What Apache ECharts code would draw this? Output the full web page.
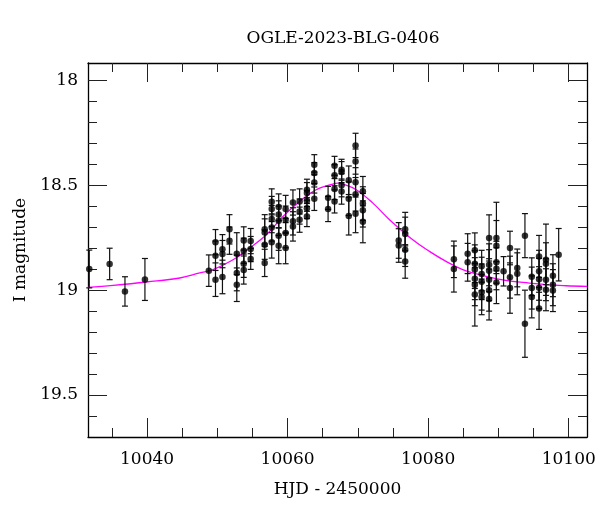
<!DOCTYPE html>
<html>
<head>
<meta charset="utf-8">
<script src="https://cdn.jsdelivr.net/npm/echarts@6/dist/echarts.min.js"></script>
<style>
html,body{margin:0;padding:0;background:#fff;}
#chart{width:600px;height:512px;}
</style>
</head>
<body>
<div id="chart"></div>
<script>
// ---- data ----
var titleText = 'OGLE-2023-BLG-0406';
var xName = 'HJD - 2450000';
var yName = 'I magnitude';

var xMajorTicks = [10040, 10060, 10080, 10100];
var xMinorTicks = [10035, 10040, 10045, 10050, 10055, 10060, 10065, 10070, 10075, 10080, 10085, 10090, 10095, 10100];
var yMajorTicks = [18, 18.5, 19, 19.5];
var yMinorTicks = [18.0, 18.1, 18.2, 18.3, 18.4, 18.5, 18.6, 18.7, 18.8, 18.9, 19.0, 19.1, 19.2, 19.3, 19.4, 19.5, 19.6];

var hjd = [
 10031.78, 10034.68, 10036.86, 10039.70, 10048.79,
 10049.74, 10049.74, 10049.74, 10050.73, 10050.73, 10050.73,
 10051.73, 10051.73, 10052.77, 10052.77, 10052.77,
 10053.76, 10053.76, 10053.76, 10053.76, 10054.75, 10054.75, 10054.75,
 10056.74, 10056.74, 10056.74, 10056.74,
 10057.74, 10057.74, 10057.74, 10057.74, 10057.74,
 10058.73, 10058.73, 10058.73, 10058.73, 10058.73,
 10059.72, 10059.72, 10059.72, 10059.72,
 10060.76, 10060.76, 10060.76, 10061.71, 10061.71, 10061.71,
 10062.75, 10062.75, 10062.75, 10062.75, 10062.75,
 10063.80, 10063.80, 10063.80, 10063.80,
 10065.76, 10065.76, 10066.68, 10066.68, 10066.68, 10066.68,
 10067.68, 10067.68, 10067.68, 10067.68,
 10068.70, 10068.70, 10068.70,
 10069.67, 10069.67, 10069.67, 10069.67, 10069.67,
 10070.71, 10070.71, 10070.71, 10070.71,
 10075.81, 10075.81, 10076.73, 10076.73, 10076.73, 10076.73,
 10083.66, 10083.66, 10085.62, 10085.62,
 10086.64, 10086.64, 10086.64, 10086.64, 10086.64, 10086.64,
 10087.61, 10087.61, 10087.61, 10087.61, 10087.61,
 10088.67, 10088.67, 10088.67, 10088.67, 10088.67, 10088.67,
 10089.71, 10089.71, 10089.71, 10089.71, 10089.71,
 10090.73, 10091.64, 10091.64, 10091.64, 10092.68, 10092.68,
 10093.77, 10093.77, 10094.74, 10094.74, 10094.74,
 10095.78, 10095.78, 10095.78, 10095.78, 10095.78,
 10096.76, 10096.76, 10096.76, 10096.76,
 10097.75, 10097.75, 10097.75, 10098.57
];
var mag = [
 18.899, 18.875, 19.006, 18.949, 18.907,
 18.771, 18.836, 18.950, 18.805, 18.828, 18.937,
 18.710, 18.764, 18.826, 18.918, 18.974,
 18.763, 18.812, 18.874, 18.904, 18.766, 18.804, 18.851,
 18.710, 18.725, 18.783, 18.870,
 18.579, 18.613, 18.661, 18.701, 18.772,
 18.604, 18.639, 18.669, 18.740, 18.788,
 18.613, 18.664, 18.728, 18.799,
 18.582, 18.672, 18.696, 18.577, 18.625, 18.664,
 18.521, 18.537, 18.574, 18.609, 18.649,
 18.402, 18.442, 18.487, 18.564,
 18.560, 18.613, 18.407, 18.452, 18.518, 18.577,
 18.426, 18.437, 18.500, 18.530,
 18.476, 18.564, 18.647,
 18.310, 18.387, 18.486, 18.543, 18.636,
 18.528, 18.587, 18.619, 18.674,
 18.763, 18.787, 18.709, 18.732, 18.807, 18.863,
 18.853, 18.899, 18.826, 18.867,
 18.810, 18.874, 18.902, 18.945, 18.974, 19.021,
 18.886, 18.923, 18.960, 19.010, 19.032,
 18.751, 18.879, 18.907, 18.950, 19.000, 19.042,
 18.751, 18.788, 18.867, 18.898, 18.964,
 18.910, 18.799, 18.938, 18.990, 18.894, 18.922,
 18.740, 19.160, 18.936, 18.990, 19.032,
 18.839, 18.910, 18.948, 18.988, 19.087,
 18.855, 18.874, 18.950, 18.998,
 18.931, 18.974, 19.002, 18.831
];
var magErr = [
 0.090, 0.075, 0.070, 0.100, 0.075,
 0.060, 0.070, 0.080, 0.070, 0.065, 0.080,
 0.070, 0.065, 0.100, 0.085, 0.080,
 0.065, 0.060, 0.065, 0.067, 0.060, 0.060, 0.050,
 0.070, 0.065, 0.070, 0.065,
 0.062, 0.060, 0.065, 0.065, 0.075,
 0.063, 0.065, 0.070, 0.070, 0.086,
 0.065, 0.065, 0.070, 0.075,
 0.060, 0.065, 0.070, 0.060, 0.060, 0.060,
 0.050, 0.050, 0.050, 0.050, 0.048,
 0.048, 0.050, 0.050, 0.056,
 0.055, 0.060, 0.045, 0.050, 0.050, 0.055,
 0.050, 0.050, 0.055, 0.060,
 0.068, 0.080, 0.090,
 0.058, 0.060, 0.070, 0.080, 0.090,
 0.070, 0.080, 0.080, 0.100,
 0.085, 0.080, 0.080, 0.080, 0.080, 0.080,
 0.087, 0.110, 0.095, 0.090,
 0.083, 0.090, 0.090, 0.100, 0.100, 0.150,
 0.076, 0.080, 0.085, 0.085, 0.085,
 0.110, 0.100, 0.100, 0.100, 0.100, 0.100,
 0.170, 0.120, 0.100, 0.100, 0.100,
 0.070, 0.080, 0.100, 0.120, 0.090, 0.100,
 0.105, 0.160, 0.090, 0.100, 0.100,
 0.100, 0.100, 0.100, 0.100, 0.100,
 0.170, 0.100, 0.100, 0.100,
 0.100, 0.100, 0.100, 0.125
];

// model curve
var modelHjd = [10031.6, 10035.19, 10039.94, 10044.67, 10047.51, 10049.40, 10052.24, 10054.61, 10056.98, 10059.34, 10061.71, 10064.09, 10066.44, 10067.15, 10067.86, 10069.77, 10072.13, 10074.50, 10077.81, 10080.18, 10082.55, 10084.91, 10087.28, 10089.65, 10092.01, 10094.38, 10096.75, 10099.59, 10102.6];
var modelMag = [18.987, 18.977, 18.961, 18.942, 18.918, 18.902, 18.855, 18.799, 18.736, 18.649, 18.577, 18.521, 18.494, 18.490, 18.494, 18.521, 18.585, 18.664, 18.760, 18.815, 18.863, 18.902, 18.926, 18.945, 18.958, 18.966, 18.974, 18.979, 18.982];

var xMin = 10031.6, xMax = 10102.6;
var yMin = 17.917, yMax = 19.7;

// ---- chart ----
var FONT = 'DejaVu Serif';
var points = hjd.map(function (x, i) { return [x, mag[i], magErr[i]]; });
var model = modelHjd.map(function (x, i) { return [x, modelMag[i]]; });
function plainNum(v) { return String(v); }

function xAxisCfg(pos, ticks, len, withLabels, showLine) {
  return {
    type: 'value', position: pos, min: xMin, max: xMax,
    axisLine: { show: showLine, onZero: false, lineStyle: { color: '#000', width: 1.3 } },
    axisTick: { show: true, inside: true, length: len, customValues: ticks, lineStyle: { color: '#222', width: 1 } },
    axisLabel: withLabels ? { show: true, customValues: ticks, formatter: plainNum, fontFamily: FONT, fontSize: 17, color: '#000', margin: 14 } : { show: false },
    splitLine: { show: false },
    name: withLabels ? xName : '',
    nameLocation: 'middle', nameGap: 44,
    nameTextStyle: { fontFamily: FONT, fontSize: 17, color: '#000' }
  };
}
function yAxisCfg(pos, ticks, len, withLabels, showLine) {
  return {
    type: 'value', position: pos, min: yMin, max: yMax, inverse: true,
    axisLine: { show: showLine, onZero: false, lineStyle: { color: '#000', width: 1.3 } },
    axisTick: { show: true, inside: true, length: len, customValues: ticks, lineStyle: { color: '#222', width: 1 } },
    axisLabel: withLabels ? { show: true, customValues: ticks, formatter: plainNum, fontFamily: FONT, fontSize: 17, color: '#000', margin: 10 } : { show: false },
    splitLine: { show: false },
    name: withLabels ? yName : '',
    nameLocation: 'middle', nameGap: 58, nameRotate: 90,
    nameTextStyle: { fontFamily: FONT, fontSize: 17, color: '#000' }
  };
}

var chart = echarts.init(document.getElementById('chart'), null, { renderer: 'canvas' });
chart.setOption({
  backgroundColor: '#fff',
  animation: false,
  title: {
    text: titleText, left: 338, top: 25, textAlign: 'center',
    textStyle: { fontFamily: FONT, fontSize: 17, fontWeight: 'normal', color: '#000' }
  },
  grid: { left: 88, right: 13, top: 63, bottom: 75, containLabel: false },
  xAxis: [
    xAxisCfg('bottom', xMajorTicks, 19, true, true),
    xAxisCfg('bottom', xMinorTicks, 9, false, false),
    xAxisCfg('top', xMajorTicks, 19, false, true),
    xAxisCfg('top', xMinorTicks, 9, false, false)
  ],
  yAxis: [
    yAxisCfg('left', yMajorTicks, 19, true, true),
    yAxisCfg('left', yMinorTicks, 9, false, false),
    yAxisCfg('right', yMajorTicks, 19, false, true),
    yAxisCfg('right', yMinorTicks, 9, false, false)
  ],
  series: [
    {
      type: 'line', xAxisIndex: 0, yAxisIndex: 0, data: model, smooth: 0.4,
      showSymbol: false, symbol: 'none', z: 1,
      lineStyle: { color: '#ff00ff', width: 1.3 }
    },
    {
      type: 'custom', xAxisIndex: 0, yAxisIndex: 0, data: points, z: 2,
      renderItem: function (params, api) {
        var x = api.value(0), y = api.value(1), e = api.value(2);
        var t = api.coord([x, y - e]);
        var b = api.coord([x, y + e]);
        var hw = 3;
        var st = { stroke: '#111', lineWidth: 1.2 };
        return {
          type: 'group', children: [
            { type: 'line', shape: { x1: t[0], y1: t[1], x2: b[0], y2: b[1] }, style: st },
            { type: 'line', shape: { x1: t[0] - hw, y1: t[1], x2: t[0] + hw, y2: t[1] }, style: st },
            { type: 'line', shape: { x1: b[0] - hw, y1: b[1], x2: b[0] + hw, y2: b[1] }, style: st }
          ]
        };
      }
    },
    {
      type: 'scatter', xAxisIndex: 0, yAxisIndex: 0, data: points, z: 3,
      symbol: 'circle', symbolSize: 6.5,
      itemStyle: { color: '#000' }
    }
  ]
});
</script>
</body>
</html>
